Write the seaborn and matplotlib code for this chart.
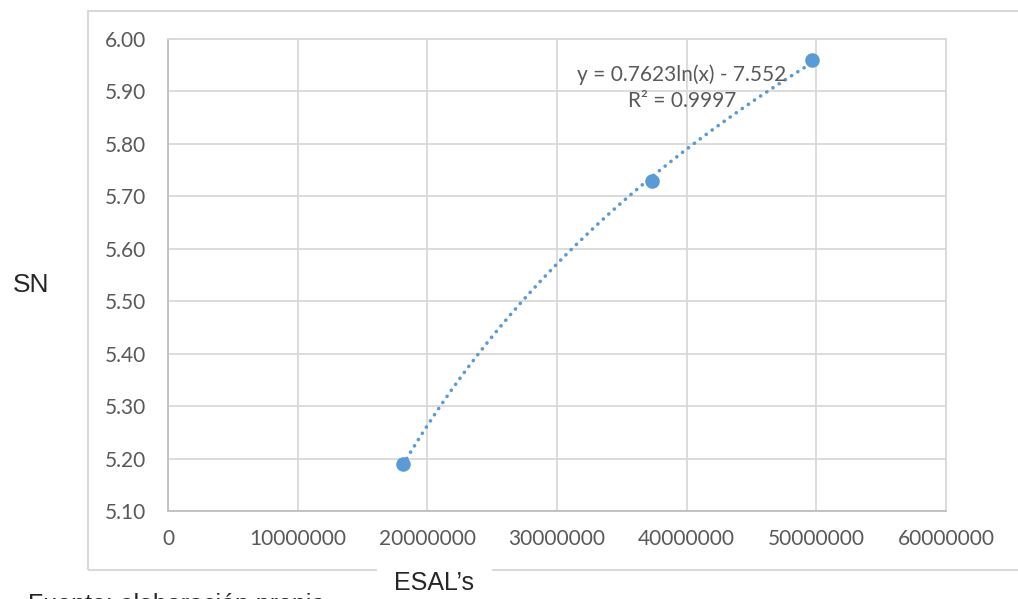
import numpy as np
import pandas as pd
import matplotlib
matplotlib.use("Agg")
import matplotlib.pyplot as plt
from matplotlib.patches import Rectangle
import seaborn as sns

# data
esals = [18120000, 37330000, 49670000]
sn = [5.19, 5.73, 5.96]
x_ticks = [0, 10000000, 20000000, 30000000, 40000000, 50000000, 60000000]
y_ticks = [5.10, 5.20, 5.30, 5.40, 5.50, 5.60, 5.70, 5.80, 5.90, 6.00]
eq_text = "y = 0.7623ln(x) - 7.552\nR² = 0.9997"

blue = "#5B9BD5"
grid_col = "#D9D9D9"
tick_col = "#595959"

sns.set_style("white")
plt.rcParams["font.family"] = ["Lato", "DejaVu Sans"]

df = pd.DataFrame({"ESAL": esals, "SN": sn})

# logarithmic trendline like Excel
a, b = np.polyfit(np.log(df["ESAL"]), df["SN"], 1)
xs = np.linspace(df["ESAL"].min(), df["ESAL"].max(), 200)
trend = pd.DataFrame({"ESAL": xs, "SN": a * np.log(xs) + b})

fig = plt.figure(figsize=(10.18, 5.99), dpi=100)
ax = fig.add_axes([168 / 1018, 1 - 511 / 599, (946 - 168) / 1018, (511 - 39) / 599])

# outer chart border
fig.patches.append(Rectangle((88 / 1018, 1 - 570 / 599), 1.0, (570 - 11) / 599,
                             transform=fig.transFigure, fill=False,
                             edgecolor=grid_col, linewidth=1.5, zorder=0))

sns.lineplot(data=trend, x="ESAL", y="SN", ax=ax, color=blue, linewidth=2.6,
             linestyle=(0, (0.05, 2.0)), dash_capstyle="round", zorder=3)
sns.scatterplot(data=df, x="ESAL", y="SN", ax=ax, color=blue, s=110,
                edgecolor=blue, linewidth=0, zorder=4)

ax.set_xlim(0, 60000000)
ax.set_ylim(5.10, 6.00)
ax.set_xticks(x_ticks)
ax.set_xticklabels([str(v) for v in x_ticks])
ax.set_yticks(y_ticks)
ax.set_yticklabels([f"{v:.2f}" for v in y_ticks])
ax.tick_params(axis="both", length=0, labelsize=15, labelcolor=tick_col)
ax.tick_params(axis="x", pad=13)
ax.tick_params(axis="y", pad=16)
ax.grid(True, color=grid_col, linewidth=1.3)
ax.set_axisbelow(True)
for side in ["top", "right"]:
    ax.spines[side].set_color(grid_col)
    ax.spines[side].set_linewidth(1.3)
for side in ["left", "bottom"]:
    ax.spines[side].set_color("#BFBFBF")
    ax.spines[side].set_linewidth(1.3)
ax.set_xlabel("")
ax.set_ylabel("")

ax.text(682 / 1018, 1 - 88 / 599, eq_text, transform=fig.transFigure,
        ha="center", va="center", fontsize=15, color=tick_col, linespacing=1.35)

fig.text(31 / 1018, 1 - 285 / 599, "SN", ha="center", va="center",
         fontsize=19, family=["Liberation Sans", "DejaVu Sans"])
fig.text(434 / 1018, 1 - 583 / 599, "ESAL’s", ha="center", va="center",
         fontsize=18, family=["Liberation Sans", "DejaVu Sans"],
         bbox=dict(boxstyle="square,pad=0.7", facecolor="white", edgecolor="none"))
fig.text(28 / 1018, 1 - 593 / 599, "Fuente: elaboración propia", ha="left", va="top",
         fontsize=18, family=["Liberation Sans", "DejaVu Sans"])

fig.savefig("out.png", dpi=100, facecolor="white")
